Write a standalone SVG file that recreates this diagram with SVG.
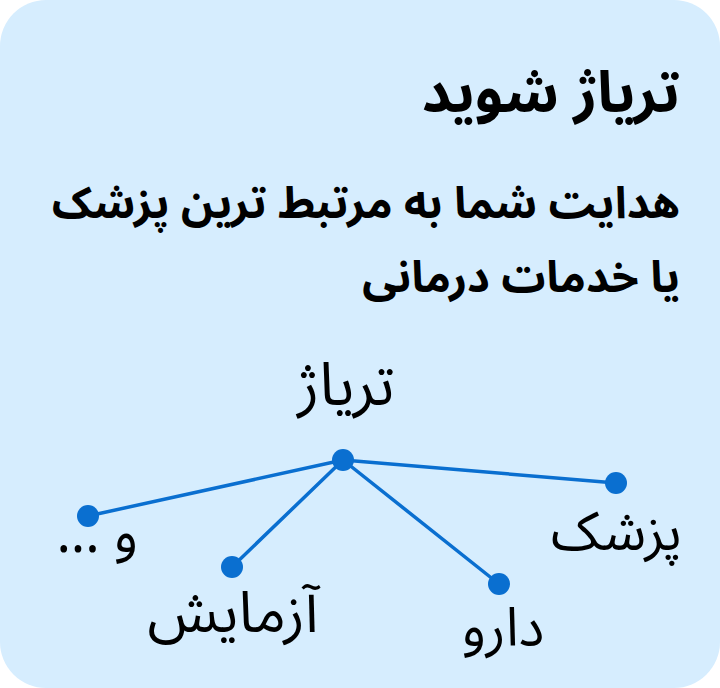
<svg xmlns="http://www.w3.org/2000/svg" width="720" height="688" viewBox="0 0 720 688">
<style>
text{font-family:"Noto Sans Arabic","Vazirmatn","DejaVu Sans",sans-serif;fill:#000;direction:rtl}
.h{font-weight:bold}
.e{stroke:#0a6fd0;stroke-width:3.5;fill:none;stroke-linecap:round}
.d{fill:#0a6fd0}
.l{font-size:54px}
</style>
<rect x="0" y="0" width="720" height="688" rx="46" fill="#d6edfe"/>
<g id="heading">
<text class="h" x="680" y="112" font-size="57" text-anchor="start">تریاژ شوید</text>
<text class="h" x="680" y="218" font-size="44" text-anchor="start">هدایت شما به مرتبط ترین پزشک</text>
<text class="h" x="680" y="292" font-size="44" text-anchor="start">یا خدمات درمانی</text>
</g>
<g id="connectors">
<line class="e" x1="343" y1="460" x2="616" y2="483"/>
<line class="e" x1="343" y1="460" x2="88" y2="516"/>
<line class="e" x1="343" y1="460" x2="232" y2="567"/>
<line class="e" x1="343" y1="460" x2="499" y2="584"/>
</g>
<g id="root"><circle class="d" cx="343" cy="460" r="11"/><text class="l" x="346" y="405" style="font-size:60px" text-anchor="middle">تریاژ</text></g>
<g id="doctor"><circle class="d" cx="616" cy="483" r="11"/><text class="l" x="682" y="550" text-anchor="start">پزشک</text></g>
<g id="more"><circle class="d" cx="88" cy="516" r="11"/><text class="l" x="138" y="552" text-anchor="start">و ...</text></g>
<g id="test"><circle class="d" cx="232" cy="567" r="11"/><text class="l" x="233" y="632" style="font-size:58px" text-anchor="middle">آزمایش</text></g>
<g id="drug"><circle class="d" cx="499" cy="584" r="11"/><text class="l" x="503" y="646" text-anchor="middle">دارو</text></g>
</svg>
